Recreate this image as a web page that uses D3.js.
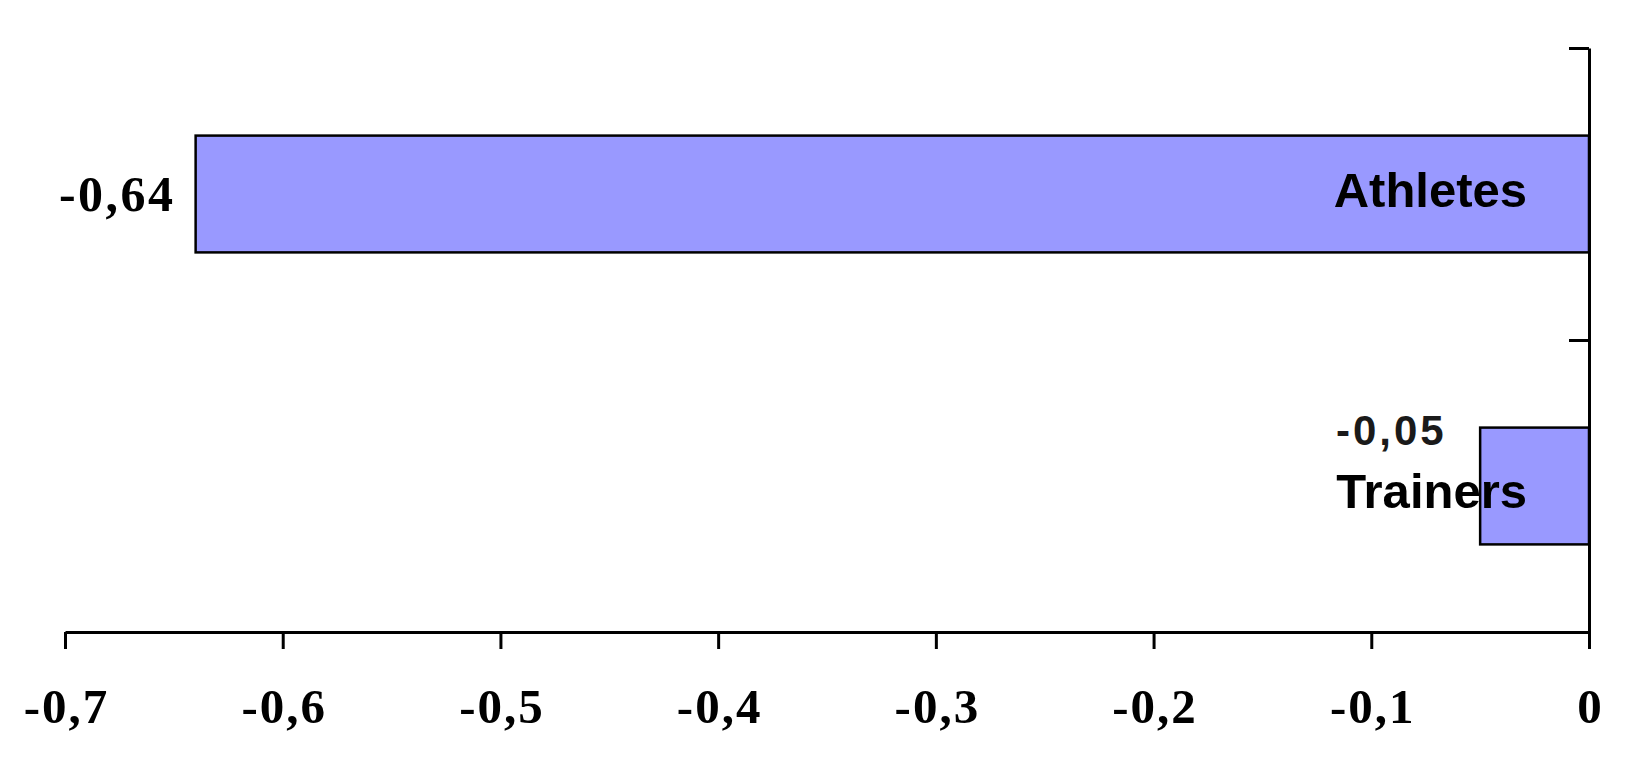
<!DOCTYPE html>
<html>
<head>
<meta charset="utf-8">
<script src="https://cdn.jsdelivr.net/npm/d3@7"></script>
<style>
  html, body { margin: 0; padding: 0; background: #fff; }
  svg { display: block; }
</style>
</head>
<body>
<svg id="chart" width="1636" height="760"></svg>
<script>
(function () {
// ---- data ----
const categories = ["Athletes", "Trainers"];
const values = [-0.64, -0.05];
const xTickValues = [-0.7, -0.6, -0.5, -0.4, -0.3, -0.2, -0.1, 0];

// ---- layout ----
const mLeft = 65, mRight = 1589, mTop = 48, mBottom = 632;

const locale = d3.formatLocale({decimal: ",", thousands: ".", grouping: [3], currency: ["", ""], minus: "-"});
const fmtTick = locale.format(".1~f");
const fmtVal = locale.format(".2f");

const svg = d3.select("#chart");

const x = d3.scaleLinear().domain([-0.7, 0]).range([mLeft, mRight]);
const yEdge = d3.scaleLinear().domain([0, categories.length]).range([mTop, mBottom]);
const y = d3.scaleBand().domain(categories).range([mTop, mBottom]).padding(0);

const barFrac = 0.4;

// bars
const rows = categories.map((c, i) => ({cat: c, value: values[i]}));
svg.append("g").selectAll("rect").data(rows).join("rect")
  .attr("x", d => x(Math.min(d.value, 0)))
  .attr("width", d => Math.abs(x(d.value) - x(0)))
  .attr("y", d => y(d.cat) + y.bandwidth() * (1 - barFrac) / 2)
  .attr("height", y.bandwidth() * barFrac)
  .attr("fill", "#9999ff")
  .attr("stroke", "#000")
  .attr("stroke-width", 2.5);

// bottom axis
const xAxis = d3.axisBottom(x).tickValues(xTickValues).tickFormat(fmtTick)
  .tickSize(17).tickSizeOuter(0);
const gx = svg.append("g").attr("transform", `translate(0,${mBottom})`).call(xAxis);
gx.select(".domain").attr("stroke", "#000").attr("stroke-width", 3);
gx.selectAll(".tick line").attr("stroke", "#000").attr("stroke-width", 3);
gx.selectAll(".tick text")
  .attr("y", 91).attr("dy", 0).attr("x", 1)
  .attr("fill", "#000")
  .style("font-family", "'Liberation Serif', 'Times New Roman', serif")
  .style("font-weight", "bold")
  .style("font-size", "49px")
  .style("letter-spacing", "2px");

// right axis (ticks pointing inward / left)
const yAxis = d3.axisLeft(yEdge).tickValues(d3.range(0, categories.length + 1))
  .tickFormat("").tickSize(20).tickSizeOuter(0);
const gy = svg.append("g").attr("transform", `translate(${mRight},0)`).call(yAxis);
gy.select(".domain").attr("stroke", "#000").attr("stroke-width", 3);
gy.selectAll(".tick line").attr("stroke", "#000").attr("stroke-width", 3);
gy.selectAll(".tick").filter(d => d === categories.length).remove();

// labels
const lab = svg.append("g");
rows.forEach(d => {
  const yc = y(d.cat) + y.bandwidth() / 2;
  const long = Math.abs(x(d.value) - x(0)) > 200;
  if (long) {
    lab.append("text")
      .attr("x", x(d.value) - 20).attr("y", yc + 17)
      .attr("text-anchor", "end")
      .style("font-family", "'Liberation Serif', 'Times New Roman', serif")
      .style("font-weight", "bold").style("font-size", "50px")
      .style("letter-spacing", "2.5px")
      .attr("fill", "#000")
      .text(fmtVal(d.value));
    lab.append("text")
      .attr("x", x(0) - 62).attr("y", yc + 13)
      .attr("text-anchor", "end")
      .style("font-family", "'Liberation Sans', Arial, sans-serif")
      .style("font-weight", "bold").style("font-size", "49px")
      .attr("fill", "#000")
      .text(d.cat);
  } else {
    lab.append("text")
      .attr("x", x(0) - 253).attr("y", yc - 41)
      .attr("text-anchor", "start")
      .style("font-family", "'Liberation Sans', Arial, sans-serif")
      .style("font-weight", "bold")
      .style("font-size", "42px")
      .style("letter-spacing", "3px")
      .attr("fill", "#1a1a1a")
      .text(fmtVal(d.value));
    lab.append("text")
      .attr("x", x(0) - 62).attr("y", yc + 22)
      .attr("text-anchor", "end")
      .style("font-family", "'Liberation Sans', Arial, sans-serif")
      .style("font-weight", "bold").style("font-size", "49px")
      .attr("fill", "#000")
      .text(d.cat);
  }
});
})();
</script>
</body>
</html>
